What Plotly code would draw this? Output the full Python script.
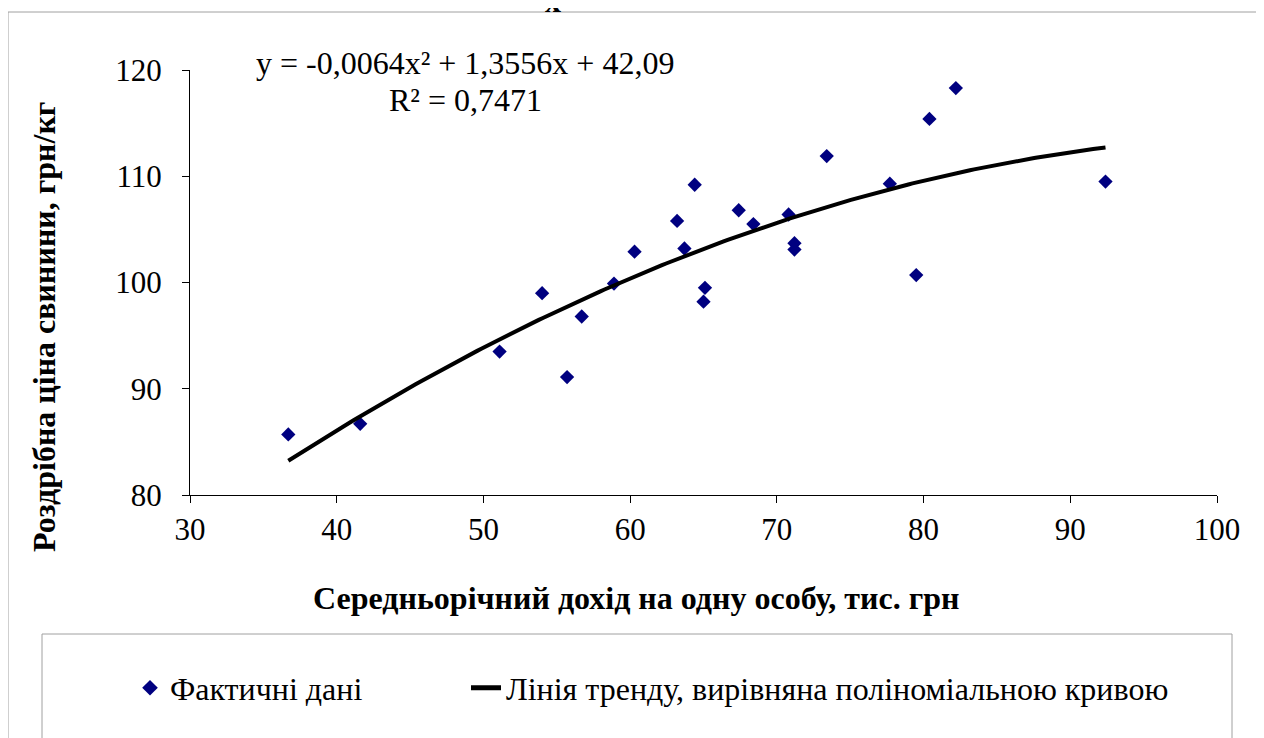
import numpy as np
import plotly.graph_objects as go

# Data
income = [36.7, 41.6, 51.1, 54.0, 55.7, 56.7, 58.9, 60.3, 63.2, 63.7, 64.4, 65.0, 65.1,
          67.4, 68.4, 70.8, 71.2, 71.2, 73.4, 77.7, 79.5, 80.4, 82.2, 92.4]
price = [85.7, 86.7, 93.5, 99.0, 91.1, 96.8, 99.9, 102.9, 105.8, 103.2, 109.2, 98.2, 99.5,
         106.8, 105.5, 106.4, 103.7, 103.1, 111.9, 109.3, 100.7, 115.4, 118.3, 109.5]

# Trend polynomial coefficients as printed on the chart (a2, a1, a0)
trend_coef = [-0.0064, 1.3556, 42.09]

x_ticks = [30, 40, 50, 60, 70, 80, 90, 100]
y_ticks = [80, 90, 100, 110, 120]

series_name = "Фактичні дані"
trend_name = "Лінія тренду, вирівняна поліноміальною кривою"
x_title = "Середньорічний дохід на одну особу, тис. грн"
y_title = "Роздрібна ціна свинини, грн/кг"
eq_text = "y = -0,0064x² + 1,3556x + 42,09"
r2_text = "R² = 0,7471"

W, H = 1264, 738
OFF = 8  # page body margin in the browser
L, R, T, B = 190 - OFF, 1217 - OFF, 70 - OFF, 495 - OFF  # plot box in figure px

def px(xs):
    return (xs - OFF - L) / (R - L)

def py(ys):
    return (B - (ys - OFF)) / (B - T)

tx = np.linspace(min(income), max(income), 200)
ty = np.polyval(trend_coef, tx)

FONT = "Times New Roman, Liberation Serif, serif"
FS = 32
TFS = 31

fig = go.Figure()
fig.add_trace(go.Scatter(
    x=income, y=price, mode="markers", name=series_name,
    marker=dict(symbol="diamond", size=11, color="#000080"), legend="legend",
))
fig.add_trace(go.Scatter(
    x=tx, y=ty, mode="lines", name=trend_name,
    line=dict(color="black", width=4), legend="legend2",
))

shapes = [
    dict(type="line", xref="paper", yref="paper", x0=px(8), x1=px(8), y0=py(12), y1=py(760),
         line=dict(color="#a0a0a0", width=1)),
    dict(type="line", xref="paper", yref="paper", x0=px(8), x1=px(1290), y0=py(12), y1=py(12),
         line=dict(color="#a0a0a0", width=1)),
    dict(type="rect", xref="paper", yref="paper", x0=px(42), x1=px(1232), y0=py(634), y1=py(760),
         line=dict(color="#a0a0a0", width=1), fillcolor="rgba(0,0,0,0)"),
]

def ann(text, xs, ys, angle=0):
    return dict(text=text, x=px(xs), y=py(ys), xref="paper", yref="paper", showarrow=False,
                textangle=angle, font=dict(family=FONT, size=FS, color="black"),
                xanchor="center", yanchor="middle")

annotations = [
    ann(eq_text, 465, 63),
    ann(r2_text, 465, 100),
    ann("<b>" + x_title + "</b>", 636, 598),
    ann("<b>" + y_title + "</b>", 44, 327, -90),
    ann("<b>x</b>", 553, 1),
]

leg_common = dict(orientation="h", xanchor="left", yanchor="middle", xref="paper", yref="paper",
                  font=dict(family=FONT, size=FS, color="black"),
                  bgcolor="rgba(0,0,0,0)", itemsizing="constant")

fig.update_layout(
    width=W, height=H,
    margin=dict(l=L, r=W - R, t=T, b=H - B, pad=0),
    paper_bgcolor="white", plot_bgcolor="white",
    font=dict(family=FONT, size=FS, color="black"),
    showlegend=True,
    legend=dict(x=px(130), y=py(688), **leg_common),
    legend2=dict(x=px(466), y=py(688), **leg_common),
    xaxis=dict(range=[30, 100], tickvals=x_ticks, showgrid=False, zeroline=False,
               showline=True, linecolor="black", linewidth=1,
               ticks="outside", ticklen=7, tickcolor="black",
               tickfont=dict(family=FONT, size=TFS)),
    yaxis=dict(range=[80, 120], tickvals=y_ticks, showgrid=False, zeroline=False,
               showline=True, linecolor="black", linewidth=1,
               ticks="outside", ticklen=7, tickcolor="black", ticklabelstandoff=14,
               tickfont=dict(family=FONT, size=TFS)),
    shapes=shapes,
    annotations=annotations,
)

fig.write_html("out.html")
